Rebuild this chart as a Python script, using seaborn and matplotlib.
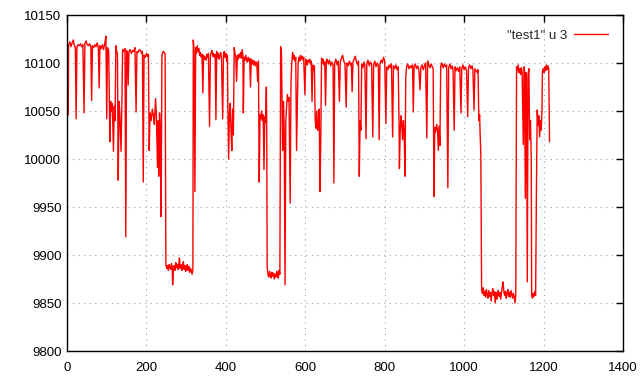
import numpy as np
import pandas as pd
import matplotlib
matplotlib.use('Agg')
import matplotlib.pyplot as plt
import seaborn as sns

# 样本序号 (x) 与读数 (u 3)
idx_a = [0, 2, 3, 4, 7, 10, 13, 16, 18, 21, 23, 25, 28, 31, 34, 37, 40, 43, 45, 48,
         51, 54, 57, 60, 62, 64, 67, 70, 73, 76, 79, 81, 83, 86, 89, 92, 95, 98, 100, 102,
         105, 108, 110, 112, 114, 117, 119, 121, 123, 125, 127, 129, 131, 133, 136, 138, 140, 143, 146, 148,
         150, 152, 154, 156, 159, 162, 165, 168, 171, 174, 176, 179, 182, 185, 188, 190, 192, 194, 197, 200,
         203, 205, 207, 209, 212, 215, 218, 220, 223, 225, 228, 230, 231, 233, 235, 237, 239, 242, 245, 247]
val_a = [10120, 10116, 10046, 10118, 10122, 10117, 10121, 10124, 10119, 10116, 10042, 10117, 10119, 10118, 10120, 10117, 10119, 10048, 10120, 10123,
         10119, 10118, 10120, 10117, 10061, 10118, 10116, 10119, 10117, 10121, 10116, 10074, 10118, 10115, 10119, 10114, 10120, 10128, 10042, 10116,
         10112, 10018, 10060, 10050, 10058, 10008, 10055, 10040, 10118, 10112, 10110, 9978, 10060, 10048, 10008, 10052, 10114, 10112, 10115, 9919,
         10113, 10111, 10077, 10112, 10114, 10110, 10113, 10112, 10116, 10049, 10112, 10111, 10114, 10113, 10110, 10112, 9976, 10108, 10106, 10110,
         10107, 10109, 10009, 10048, 10040, 10052, 10044, 10036, 10063, 10046, 9991, 10040, 9982, 10048, 10030, 9940, 10108, 10112, 10111, 10110]

idx_b = [249, 251, 253, 255, 257, 259, 261, 263, 265, 266, 268, 270, 272, 274, 276, 278, 280, 283, 285, 287,
         289, 291, 293, 295, 297, 299, 301, 303, 305, 307, 309, 311, 313, 315, 317]
val_b = [9890, 9886, 9889, 9884, 9890, 9887, 9885, 9891, 9888, 9869, 9886, 9889, 9884, 9892, 9887, 9890, 9885, 9897, 9886, 9890,
         9884, 9888, 9893, 9885, 9889, 9883, 9887, 9890, 9884, 9888, 9882, 9886, 9884, 9880, 9885]

idx_c = [318, 320, 322, 324, 326, 328, 330, 332, 334, 336, 338, 340, 342, 344, 346, 348, 350, 352, 354, 356,
         359, 361, 363, 365, 367, 369, 371, 373, 375, 377, 379, 381, 383, 385, 387, 389, 392, 394, 396, 398,
         400, 402, 404, 405, 407, 409, 411, 413, 415, 417, 419, 421, 423, 425, 427, 429, 431, 433, 435, 437,
         439, 441, 443, 444, 446, 448, 450, 452, 454, 456, 458, 460, 462, 464, 466, 468, 470, 472, 474, 476,
         478, 480, 482, 484, 486, 488, 490, 492, 494, 496, 498, 500, 502, 503]
val_c = [10124, 10112, 9966, 10116, 10110, 10118, 10112, 10115, 10108, 10111, 10106, 10109, 10069, 10108, 10104, 10106, 10103, 10109, 10106, 10110,
         10034, 10108, 10111, 10113, 10107, 10110, 10106, 10109, 10041, 10112, 10106, 10110, 10104, 10108, 10111, 10105, 10042, 10109, 10112, 10106,
         10110, 10102, 10108, 10054, 10000, 10048, 10058, 10030, 10009, 10052, 10025, 10116, 10110, 10106, 10081, 10108, 10104, 10109, 10106, 10111,
         10105, 10114, 10107, 10048, 10106, 10103, 10108, 10104, 10101, 10106, 10102, 10105, 10075, 10104, 10099, 10103, 10098, 10102, 10097, 10101,
         10099, 10081, 10102, 9976, 10046, 10042, 10050, 10040, 10046, 9989, 10044, 10038, 10075, 10025]

idx_d = [504, 506, 508, 510, 512, 514, 516, 518, 520, 522, 524, 526, 528, 530, 532, 534, 536]
val_d = [9888, 9880, 9877, 9883, 9879, 9876, 9882, 9878, 9881, 9875, 9880, 9877, 9883, 9879, 9876, 9884, 9880]

idx_e = [538, 540, 543, 545, 547, 549, 551, 553, 555, 557, 559, 562, 564, 566, 568, 570, 572, 574, 576, 578,
         580, 582, 584, 586, 588, 590, 592, 594, 596, 599, 601, 603, 605, 607, 609, 611, 613, 615, 617, 619,
         621, 623, 625, 627, 629, 631, 633, 635, 637, 639, 641, 643, 645, 647, 649, 651, 653]
val_e = [10117, 10112, 10009, 10060, 10030, 9869, 10040, 10055, 10067, 10060, 10064, 9954, 10080, 10100, 10111, 10104, 10108, 10102, 10106, 10009,
         10056, 10100, 10106, 10102, 10108, 10104, 10107, 10103, 10106, 10067, 10104, 10100, 10098, 10103, 10101, 10104, 10099, 10102, 10060, 10098,
         10093, 10097, 10040, 10032, 10050, 10030, 10036, 10052, 9966, 10020, 10105, 10100, 10104, 10098, 10101, 10056, 10102]

idx_f = [655, 658, 661, 664, 667, 670, 672, 674, 677, 680, 683, 686, 688, 691, 694, 697, 700, 703, 705, 708,
         711, 714, 716, 718, 720, 723, 726, 729, 732, 734, 736, 738, 740, 742, 745, 748, 750, 753, 755, 758,
         761, 764, 767, 770, 772, 775, 778, 781, 784, 786, 788, 791, 794, 797, 800, 803, 805, 808, 811, 814,
         817, 820, 822, 825, 828, 831, 834, 836, 837, 839, 841, 843, 845, 847, 849, 851, 853, 855, 858, 861,
         864, 867, 870, 872, 874, 877, 880, 883, 886, 889, 891, 894, 897, 900, 903, 906, 908, 911, 914, 917,
         920, 922, 924, 926, 928, 931, 933, 935, 937, 939, 941, 944, 947, 950, 953, 956, 959, 961, 964, 967,
         970, 972, 975, 977, 980, 983, 986, 989, 992, 994, 997, 1000, 1003, 1006, 1009, 1011, 1014, 1017, 1020, 1022,
         1025, 1027, 1030, 1033, 1035, 1037, 1039, 1040, 1042]
val_f = [10104, 10099, 10103, 10097, 10101, 10098, 9975, 10100, 10104, 10098, 10102, 10060, 10101, 10105, 10108, 10102, 10099, 10054, 10100, 10097,
         10102, 10098, 10100, 10070, 10101, 10104, 10107, 10101, 10098, 10102, 9982, 10040, 10030, 10099, 10095, 10101, 10098, 10021, 10100, 10103,
         10097, 10101, 10099, 10023, 10098, 10102, 10096, 10100, 10097, 10020, 10099, 10103, 10100, 10106, 10102, 10037, 10096, 10093, 10098, 10095,
         10099, 10023, 10097, 10094, 10098, 10093, 10096, 10040, 9990, 10030, 10045, 10035, 10020, 10040, 10028, 9982, 10086, 10096, 10099, 10094,
         10097, 10095, 10098, 10049, 10096, 10099, 10094, 10097, 10093, 10072, 10095, 10098, 10093, 10097, 10100, 10022, 10102, 10098, 10095, 10099,
         10096, 10094, 9961, 10033, 10028, 10036, 10030, 10009, 10034, 10014, 10097, 10100, 10095, 10099, 10096, 10098, 9970, 10095, 10099, 10094,
         10097, 10093, 10030, 10096, 10092, 10095, 10091, 10096, 10048, 10094, 10098, 10093, 10096, 10092, 10044, 10095, 10098, 10094, 10097, 10093,
         10051, 10094, 10092, 10090, 10093, 10040, 10046, 10030, 10004]

idx_g = [1044, 1046, 1048, 1050, 1052, 1054, 1056, 1058, 1060, 1062, 1064, 1066, 1068, 1070, 1072, 1074, 1076, 1078, 1080, 1082,
         1084, 1086, 1088, 1090, 1092, 1094, 1096, 1098, 1100, 1102, 1104, 1106, 1108, 1110, 1112, 1114, 1116, 1118, 1120, 1122,
         1124, 1126, 1128, 1130]
val_g = [9864, 9860, 9866, 9858, 9862, 9856, 9864, 9859, 9855, 9863, 9857, 9861, 9852, 9860, 9865, 9858, 9862, 9850, 9861, 9854,
         9859, 9863, 9857, 9861, 9854, 9860, 9867, 9872, 9862, 9858, 9862, 9855, 9860, 9864, 9857, 9861, 9856, 9863, 9859, 9855,
         9860, 9857, 9850, 9858]

idx_h = [1132, 1134, 1136, 1138, 1140, 1142, 1144, 1146, 1149, 1151, 1152, 1154, 1156, 1157, 1159, 1161, 1163, 1165, 1167, 1169,
         1170, 1172, 1174, 1176, 1178, 1180, 1182, 1184, 1186, 1188, 1190, 1192, 1194, 1196, 1197, 1199, 1201, 1203, 1205, 1207,
         1209, 1211, 1213, 1215]
val_h = [10096, 10092, 10098, 10090, 10094, 10088, 10095, 10090, 10015, 10096, 10092, 9959, 10090, 10085, 9872, 10088, 10094, 10020, 10040, 9999,
         9858, 9855, 9860, 9857, 9862, 9858, 9968, 10051, 10035, 10045, 10023, 10040, 10030, 10050, 10091, 10094, 10090, 10096, 10092, 10098,
         10093, 10097, 10094, 10018]

x_ticks = [0, 200, 400, 600, 800, 1000, 1200, 1400]
y_ticks = [9800, 9850, 9900, 9950, 10000, 10050, 10100, 10150]
label = '"test1" u 3'


def build():
    xs = idx_a + idx_b + idx_c + idx_d + idx_e + idx_f + idx_g + idx_h
    ys = val_a + val_b + val_c + val_d + val_e + val_f + val_g + val_h
    return pd.DataFrame({'x': xs, 'y': ys})


def draw(data):
    sns.set_style('white')
    plt.rcParams['font.family'] = ['Liberation Sans', 'DejaVu Sans']
    fig = plt.figure(figsize=(6.4, 3.84), dpi=100)
    ax = fig.add_axes([67 / 640, 33 / 384, 556 / 640, 336 / 384])
    sns.lineplot(data=data, x='x', y='y', ax=ax, color='#ff0000', linewidth=1.0,
                 label=label, sort=False, estimator=None)
    ax.set_xlim(0, 1400)
    ax.set_ylim(9800, 10150)
    ax.set_xticks(x_ticks)
    ax.set_yticks(y_ticks)
    ax.set_xlabel('')
    ax.set_ylabel('')
    ax.grid(True, color='#a0a0a0', linestyle=(0, (1, 4)), linewidth=0.8)
    ax.tick_params(direction='in', length=5, width=1, top=True, right=True,
                   labelsize=9.5, colors='black')
    ax.tick_params(axis='x', pad=8)
    ax.tick_params(axis='y', pad=4)
    for s in ax.spines.values():
        s.set_color('black')
        s.set_linewidth(1)
    leg = ax.legend(loc='upper right', frameon=False, markerfirst=False,
                    fontsize=9.5, handlelength=2.6, borderaxespad=0.7,
                    handletextpad=0.5)
    plt.savefig('out.png', dpi=100)


if __name__ == '__main__':
    draw(build())
